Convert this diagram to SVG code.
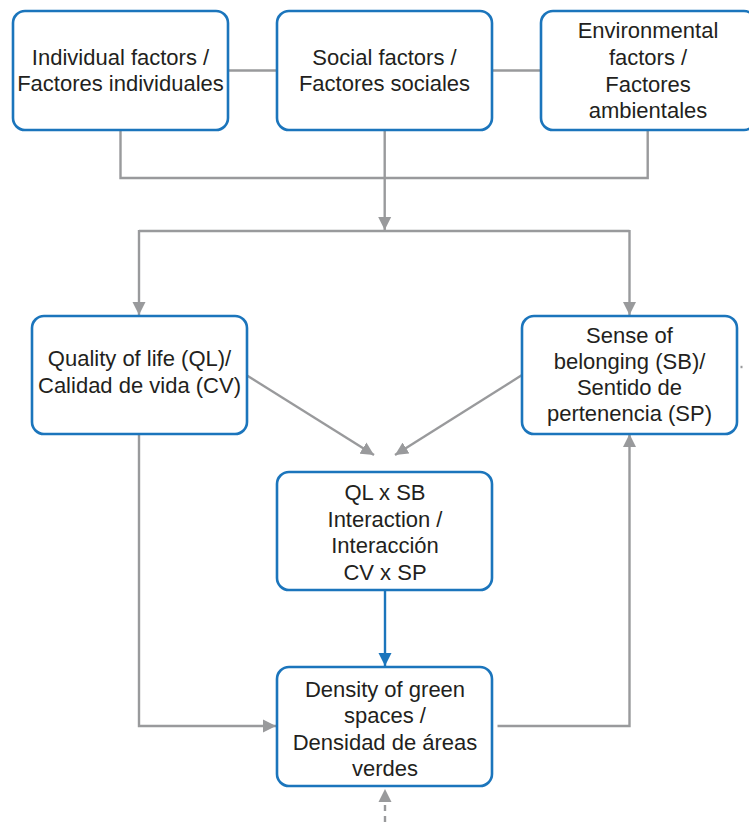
<svg xmlns="http://www.w3.org/2000/svg" width="749" height="822" viewBox="0 0 749 822">
<style>
.box{fill:#fff;stroke:#1b75bc;stroke-width:2.6}
.t{font-family:"Liberation Sans",Arial,sans-serif;font-size:22px;fill:#231f20;text-anchor:middle}
.c{fill:none;stroke:#999a9c;stroke-width:2.4}
.cb{fill:none;stroke:#1b75bc;stroke-width:2.4}
</style>
<defs>
<marker id="ag" markerUnits="userSpaceOnUse" markerWidth="14" markerHeight="14" viewBox="0 0 14 14" refX="13" refY="7" orient="auto"><path d="M0,0.5 L13,7 L0,13.5 Z" fill="#999a9c"/></marker>
<marker id="ab" markerUnits="userSpaceOnUse" markerWidth="14" markerHeight="14" viewBox="0 0 14 14" refX="13" refY="7" orient="auto"><path d="M0,0.5 L13,7 L0,13.5 Z" fill="#1b75bc"/></marker>
</defs>
<rect width="749" height="822" fill="#fff"/>
<g id="connectors">
<path class="c" d="M228,70.5 H277 M492,70.5 H541"/>
<path class="c" d="M120.5,130 V178 H647.7 V130"/>
<path class="c" d="M384.7,130 V230" marker-end="url(#ag)"/>
<path class="c" d="M139,231 H629.5"/>
<path class="c" d="M139,230 V315" marker-end="url(#ag)"/>
<path class="c" d="M629.5,230 V315" marker-end="url(#ag)"/>
<path class="c" d="M247,375.5 L374,455" marker-end="url(#ag)"/>
<path class="c" d="M522,375 L395,455" marker-end="url(#ag)"/>
<path class="cb" d="M385,590 V666" marker-end="url(#ab)"/>
<path class="c" d="M139,434 V726 H276" marker-end="url(#ag)"/>
<path class="c" d="M497.5,726 H629.5 V434" marker-end="url(#ag)"/>
<path class="c" d="M385,822 V789" stroke-dasharray="6,5" marker-end="url(#ag)"/>
<path class="c" d="M740.5,367 H742.5" stroke-width="1.5"/>
</g>
<g id="individual">
<rect class="box" x="13" y="11" width="215" height="119" rx="12"/>
<text class="t" x="120.5" y="65">Individual factors /</text>
<text class="t" x="120.5" y="91">Factores individuales</text>
</g>
<g id="social">
<rect class="box" x="277" y="11" width="215" height="119" rx="12"/>
<text class="t" x="384.5" y="65">Social factors /</text>
<text class="t" x="384.5" y="91">Factores sociales</text>
</g>
<g id="environmental">
<rect class="box" x="541" y="11" width="215" height="119" rx="12"/>
<text class="t" x="648" y="38">Environmental</text>
<text class="t" x="648" y="65">factors /</text>
<text class="t" x="648" y="92">Factores</text>
<text class="t" x="648" y="118">ambientales</text>
</g>
<g id="quality">
<rect class="box" x="32" y="316" width="215" height="118" rx="12"/>
<text class="t" x="139.5" y="366">Quality of life (QL)/</text>
<text class="t" x="139.5" y="393">Calidad de vida (CV)</text>
</g>
<g id="belonging">
<rect class="box" x="522" y="316" width="215" height="118" rx="12"/>
<text class="t" x="629.5" y="343">Sense of</text>
<text class="t" x="629.5" y="369">belonging (SB)/</text>
<text class="t" x="629.5" y="395">Sentido de</text>
<text class="t" x="629.5" y="421">pertenencia (SP)</text>
</g>
<g id="interaction">
<rect class="box" x="277" y="472" width="215" height="118" rx="12"/>
<text class="t" x="385" y="500">QL x SB</text>
<text class="t" x="385" y="527">Interaction /</text>
<text class="t" x="385" y="553">Interacción</text>
<text class="t" x="385" y="580">CV x SP</text>
</g>
<g id="density">
<rect class="box" x="277" y="667" width="215" height="119" rx="12"/>
<text class="t" x="385" y="697">Density of green</text>
<text class="t" x="385" y="723">spaces /</text>
<text class="t" x="385" y="750">Densidad de áreas</text>
<text class="t" x="385" y="776">verdes</text>
</g>
</svg>
